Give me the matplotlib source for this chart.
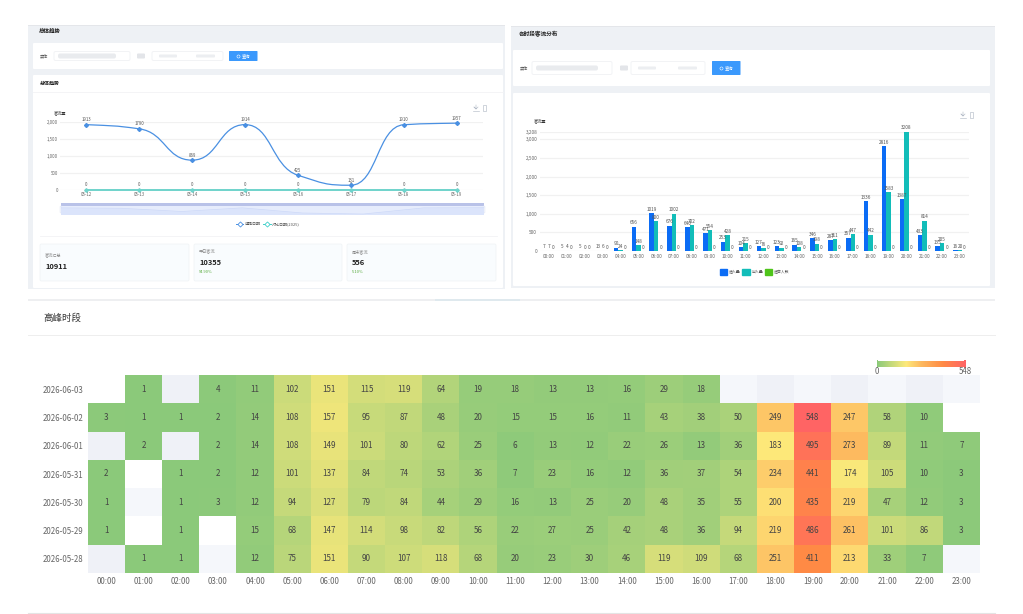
import numpy as np
import matplotlib
matplotlib.use("Agg")
import matplotlib.pyplot as plt
from matplotlib.colors import LinearSegmentedColormap, ListedColormap
from matplotlib.patches import FancyBboxPatch, PathPatch, Patch, Rectangle
from matplotlib.lines import Line2D
from matplotlib.path import Path

plt.rcParams['font.family'] = ['Noto Sans CJK SC', 'DejaVu Sans']
NARROW = ['Liberation Sans Narrow', 'Noto Sans CJK SC']

# data
trend_days = ["05-12", "05-13", "05-14", "05-15", "05-16", "05-17", "05-18", "05-19"]
trend_now = [1913, 1790, 869, 1914, 425, 131, 1910, 1957]
trend_last = [0, 0, 0, 0, 0, 0, 0, 0]

hours = [f"{h:02d}:00" for h in range(24)]
enter = [7, 5, 5, 13, 90, 656, 1019, 676, 640, 471, 253, 104,
         127, 123, 165, 346, 287, 357, 1336, 2816, 1387, 433, 135, 16]
leave = [7, 4, 0, 6, 24, 148, 800, 1002, 702, 554, 428, 215,
         76, 92, 108, 198, 311, 447, 442, 1583, 3208, 814, 205, 20]
other = [0] * 24
bar_ticks = [0, 500, 1000, 1500, 2000, 2500, 3000, 3208]

dates = ["2026-06-03", "2026-06-02", "2026-06-01", "2026-05-31",
         "2026-05-30", "2026-05-29", "2026-05-28"]
n = None
heat = [
    [n, 1, n, 4, 11, 102, 151, 115, 119, 64, 19, 18, 13, 13, 16, 29, 18, n, n, n, n, n, n, n],
    [3, 1, 1, 2, 14, 108, 157, 95, 87, 48, 20, 15, 15, 16, 11, 43, 38, 50, 249, 548, 247, 58, 10, n],
    [n, 2, n, 2, 14, 108, 149, 101, 80, 62, 25, 6, 13, 12, 22, 26, 13, 36, 183, 495, 273, 89, 11, 7],
    [2, n, 1, 2, 12, 101, 137, 84, 74, 53, 36, 7, 23, 16, 12, 36, 37, 54, 234, 441, 174, 105, 10, 3],
    [1, n, 1, 3, 12, 94, 127, 79, 84, 44, 29, 16, 13, 25, 20, 48, 35, 55, 200, 435, 219, 47, 12, 3],
    [1, n, 1, n, 15, 68, 147, 114, 98, 82, 56, 22, 27, 25, 42, 48, 36, 94, 219, 486, 261, 101, 86, 3],
    [n, 1, 1, n, 12, 75, 151, 90, 107, 118, 68, 20, 23, 30, 46, 119, 109, 68, 251, 411, 213, 33, 7, n],
]
# cells without a value are not all the same shade in the picture: 0 white, 1 pale, 2 paler
blank_cells = {(0, 0): 0, (0, 2): 1, (0, 17): 2, (0, 18): 1, (0, 19): 2, (0, 20): 1, (0, 21): 2,
               (0, 22): 1, (0, 23): 2, (1, 23): 0, (2, 0): 1, (2, 2): 1, (3, 1): 0, (4, 1): 2,
               (5, 1): 0, (5, 3): 0, (6, 0): 1, (6, 3): 2, (6, 23): 2}

cards = [("客流汇总", "10911", ""), ("平日客流", "10355", "94.90%"), ("周末客流", "556", "5.10%")]

W, H = 1023, 614
fig = plt.figure(figsize=(W / 100, H / 100), dpi=100, facecolor="white")


def ax_px(l, t, r, b, **kw):
    return fig.add_axes([l / W, 1 - b / H, (r - l) / W, (b - t) / H], **kw)


# page furniture, drawn in pixel coordinates
bg = ax_px(0, 0, W, H)
bg.set_xlim(0, W)
bg.set_ylim(H, 0)
bg.axis("off")


def box(x0, y0, x1, y1, color, edge="none", r=0, lw=0.6):
    if r:
        p = FancyBboxPatch((x0, y0), x1 - x0, y1 - y0, boxstyle=f"round,pad=0,rounding_size={r}",
                           fc=color, ec=edge, lw=lw)
    else:
        p = Rectangle((x0, y0), x1 - x0, y1 - y0, fc=color, ec=edge, lw=lw)
    bg.add_patch(p)


def filter_row(y, x_label, x_inp, x_date, x_btn, h, btn_h):
    bg.text(x_label, y, "实体", fontsize=3, color="#555555", va="center")
    box(x_inp[0], y - h, x_inp[1], y + h, "white", "#f0f1f4", r=1.5)
    box(x_inp[0] + 4, y - 2.5, x_inp[1] - 14, y + 2.5, "#e9ebee", r=2)
    box(x_date[0], y - 2.5, x_date[0] + 8, y + 2.5, "#e3e5e9", r=1)
    box(x_date[1], y - h, x_date[2], y + h, "white", "#f0f1f4", r=1.5)
    box(x_date[1] + 7, y - 1.5, x_date[1] + 25, y + 1.5, "#eceef1", r=1)
    box(x_date[2] - 27, y - 1.5, x_date[2] - 8, y + 1.5, "#eceef1", r=1)
    box(x_btn, y - btn_h, x_btn + 28.5, y + btn_h, "#3b99fc", r=0.6)
    bg.text(x_btn + 17, y, "查询", fontsize=3.1, color="white", va="center", ha="center")
    bg.plot([x_btn + 9], [y], "o", ms=2.2, mfc="none", mec="white", mew=0.4)


# left panel
box(28, 25, 505, 288.5, "#eef1f5")
box(28, 25, 505, 26, "#e4e6ea")
bg.text(38.5, 31, "总体趋势", fontsize=4, color="#222222", va="center", weight="bold")
box(33, 43, 503, 69, "white", r=1)
filter_row(56, 40, (54, 130), (137, 152, 223), 229, 4.5, 5)
box(33, 75, 503, 288, "white", r=1)
bg.text(40, 83, "总体趋势", fontsize=3.6, color="#222222", va="center", weight="bold")
bg.plot([33, 503], [92, 92], color="#f2f3f5", lw=0.6)
bg.plot([40, 497], [236, 236], color="#f2f3f5", lw=0.6)

for (x0, x1), (name, val, pct) in zip([(40, 189), (194, 342), (347, 496)], cards):
    box(x0, 244, x1, 281, "#f9fcfe", "#f1f4f6", r=1.5)
    tx = x0 + 5
    if pct:
        bg.text(tx, 252, name, fontsize=3, color="#888888", va="center")
        bg.text(tx, 262.7, val, fontsize=5.4, color="#222222", va="center", weight="bold")
        bg.text(tx, 272, pct, fontsize=2.9, color="#52a836", va="center")
    else:
        bg.text(tx, 256, name, fontsize=3, color="#888888", va="center")
        bg.text(tx, 266.7, val, fontsize=5.4, color="#222222", va="center", weight="bold")

# right panel
box(511, 26, 995, 288, "#eef1f5")
box(511, 26, 995, 27, "#e4e6ea")
bg.text(519, 34.5, "各时段客流分布", fontsize=4.1, color="#222222", va="center", weight="bold")
box(513, 50, 990, 86, "white", r=1)
filter_row(68, 520, (532, 612), (620, 631, 705), 712, 6.5, 7)
box(513, 93, 990, 286, "white", r=1)

# heatmap section rules and title
box(28, 299, 995, 301, "#eeeff1")
box(435, 299, 520, 301, "#dfe9ee")
bg.plot([28, 995], [335, 335], color="#eeeeee", lw=0.7)
bg.plot([28, 995], [613, 613], color="#e4e4e4", lw=0.8)
bg.text(43, 318, "高峰时段", fontsize=6.8, color="#333333", va="center")

# toolbox icons
for ix, iy in [(476, 108), (963, 115)]:
    bg.plot([ix, ix, ix - 2, ix, ix + 2], [iy - 3, iy + 1, iy - 1, iy + 1, iy - 1], color="#b4bcc8", lw=0.45)
    bg.plot([ix - 3, ix + 3], [iy + 2.5, iy + 2.5], color="#b4bcc8", lw=0.45)
    bg.add_patch(Rectangle((ix + 7, iy - 3.2), 3.4, 6, fc="none", ec="#b4bcc8", lw=0.45))

# trend line chart
ax = ax_px(60, 121.7, 483, 189.7)
ax.patch.set_alpha(0)
x = np.arange(len(trend_days))
ax.set_xlim(-0.5, len(trend_days) - 0.5)
ax.set_ylim(0, 2000)


def smooth_path(xs, ys):
    # bezier through the points, flat at the turning points like the chart's smooth line
    xs = np.asarray(xs, float)
    ys = np.asarray(ys, float)
    d = np.diff(ys)
    m = np.zeros(len(ys))
    for i in range(1, len(ys) - 1):
        if d[i - 1] * d[i] > 0:
            m[i] = 2 * d[i - 1] * d[i] / (d[i - 1] + d[i])
    m[0], m[-1] = d[0] * 0.6, d[-1] * 0.6
    verts, codes = [(xs[0], ys[0])], [Path.MOVETO]
    for i in range(len(xs) - 1):
        verts += [(xs[i] + 0.5, ys[i] + m[i] * 0.5), (xs[i + 1] - 0.5, ys[i + 1] - m[i + 1] * 0.5),
                  (xs[i + 1], ys[i + 1])]
        codes += [Path.CURVE4] * 3
    return Path(verts, codes)


ax.set_yticks([0, 500, 1000, 1500, 2000], ["0", "500", "1,000", "1,500", "2,000"])
ax.set_xticks(x, trend_days)
ax.tick_params(length=0, labelsize=3.1, labelcolor="#666666", pad=1.5)
ax.grid(axis="y", color="#f1f1f1", lw=0.9)
ax.set_axisbelow(True)
for s in ax.spines.values():
    s.set_visible(False)
ax.add_patch(PathPatch(smooth_path(x, trend_now), fc="none", ec="#4a90e2", lw=0.9, clip_on=False))
ax.plot(x, trend_now, ls="none", marker="D", ms=2.0, color="#4a90e2", clip_on=False, zorder=4)
ax.plot(x, trend_last, color="#6fd3cb", lw=1.4, marker="D", ms=1.8, clip_on=False, zorder=3)
for xi, v, v0 in zip(x, trend_now, trend_last):
    ax.annotate(str(v), (xi, v), xytext=(0, 1.9), textcoords="offset points", ha="center",
                va="bottom", fontsize=3.1, color="#555555", annotation_clip=False)
    ax.annotate(str(v0), (xi, v0), xytext=(0, 1.9), textcoords="offset points", ha="center",
                va="bottom", fontsize=3.1, color="#555555", annotation_clip=False)
bg.text(60, 113.7, "客流量", fontsize=3, color="#333333", va="center", ha="center")

# data zoom strip under the trend chart
mini = ax_px(61, 205.5, 484, 214.5)
mini.set_xlim(x[0], x[-1])
mini.set_ylim(0, 2600)
mini.patch.set_facecolor("#dbe4fb")
mini.fill_between(x, trend_now, 2600, color="#e6ecfc", lw=0)
mini.plot(x, trend_now, color="#ccd8f8", lw=0.5)
mini.set_xticks([])
mini.set_yticks([])
for s in mini.spines.values():
    s.set_visible(False)
box(61, 203, 484, 205.5, "#b9c2e8")
box(60, 206, 62.5, 213, "#f3f5fc", "#dfe3f2", r=0.8, lw=0.3)
box(482.5, 206, 485, 213, "#f3f5fc", "#dfe3f2", r=0.8, lw=0.3)

h1 = Line2D([], [], color="#4a90e2", lw=0.7, marker="D", ms=2.6, mfc="white", mew=0.6)
h2 = Line2D([], [], color="#3fcfc9", lw=0.7, marker="D", ms=2.6, mfc="white", mew=0.6)
ax.legend([h1, h2], ["选择日期", "对比日期(2025)"], loc="center", bbox_to_anchor=(0.492, -0.51), ncol=2,
          frameon=False, fontsize=2.9, labelcolor="#555555", handlelength=1.8, handletextpad=0.4,
          columnspacing=0.6)

# hourly bars
bx = ax_px(540, 131.7, 969, 251)
bx.patch.set_alpha(0)
pos = np.arange(len(hours))
bw = 0.25
bx.set_xlim(-0.5, len(hours) - 0.5)
bx.set_ylim(0, 3208)
series = [("进入量", enter, "#0b6cf5", -bw), ("出入量", leave, "#12bdb9", 0), ("进店人数", other, "#4fc41a", bw)]
for name, vals, col, off in series:
    bars = bx.bar(pos + off, vals, bw, color=col, label=name)
    bx.bar_label(bars, fontsize=3.4, color="#555555", padding=1, family=NARROW)
bx.set_yticks(bar_ticks, [f"{v:,}" for v in bar_ticks])
bx.set_xticks(pos, hours)
bx.tick_params(length=0, labelsize=3.4, labelcolor="#666666", pad=2)
for lab in bx.get_xticklabels() + bx.get_yticklabels():
    lab.set_family(NARROW)
bx.grid(axis="y", color="#f1f1f1", lw=0.9)
bx.set_axisbelow(True)
for s in bx.spines.values():
    s.set_visible(False)
bx.legend(handles=[Patch(color=c, label=nm) for nm, _, c, _ in series], loc="center",
          bbox_to_anchor=(0.5, -0.174), ncol=3, frameon=False, fontsize=2.8, labelcolor="#555555",
          handlelength=1.9, handleheight=1.9, handletextpad=0.4, columnspacing=0.5)
bg.text(540, 122, "客流量", fontsize=3, color="#333333", va="center", ha="center")

# heatmap
hx = ax_px(87.7, 375, 980, 573)
heat_arr = np.array([[np.nan if v is None else v for v in row] for row in heat], float)
cmap = LinearSegmentedColormap.from_list(
    "peak", [(0, "#8bc97a"), (0.33, "#fde97a"), (0.5, "#fdb95f"), (0.75, "#ff8a45"), (1, "#ff6464")])
blank_arr = np.full(heat_arr.shape, np.nan)
for (r, c), shade in blank_cells.items():
    blank_arr[r, c] = shade
hx.pcolormesh(np.ma.masked_invalid(blank_arr), cmap=ListedColormap(["#ffffff", "#eff1f7", "#f5f7fb"]),
              vmin=-0.5, vmax=2.5, antialiased=False)
mesh = hx.pcolormesh(np.ma.masked_invalid(heat_arr), cmap=cmap, vmin=0, vmax=548, antialiased=False)
hx.set_ylim(len(dates), 0)
hx.set_xticks(np.arange(24) + 0.5, hours)
hx.set_yticks(np.arange(7) + 0.5, dates)
hx.tick_params(length=0, labelsize=5.7, labelcolor="#666666", pad=3)
for s in hx.spines.values():
    s.set_visible(False)
for r, row in enumerate(heat):
    for c, v in enumerate(row):
        if v is not None:
            hx.text(c + 0.5, r + 0.5, str(v), ha="center", va="center", fontsize=5.8, color="#444444")

box(876.5, 360, 878, 367.5, "#8bc97a")
box(964, 360, 966, 367.5, "#ff6464")
cax = ax_px(877, 361, 965, 367)
cb = fig.colorbar(mesh, cax=cax, orientation="horizontal", ticks=[0, 548])
cb.outline.set_visible(False)
cb.ax.tick_params(length=0, labelsize=5.7, labelcolor="#666666", pad=0)

fig.savefig("out.png", dpi=100)
